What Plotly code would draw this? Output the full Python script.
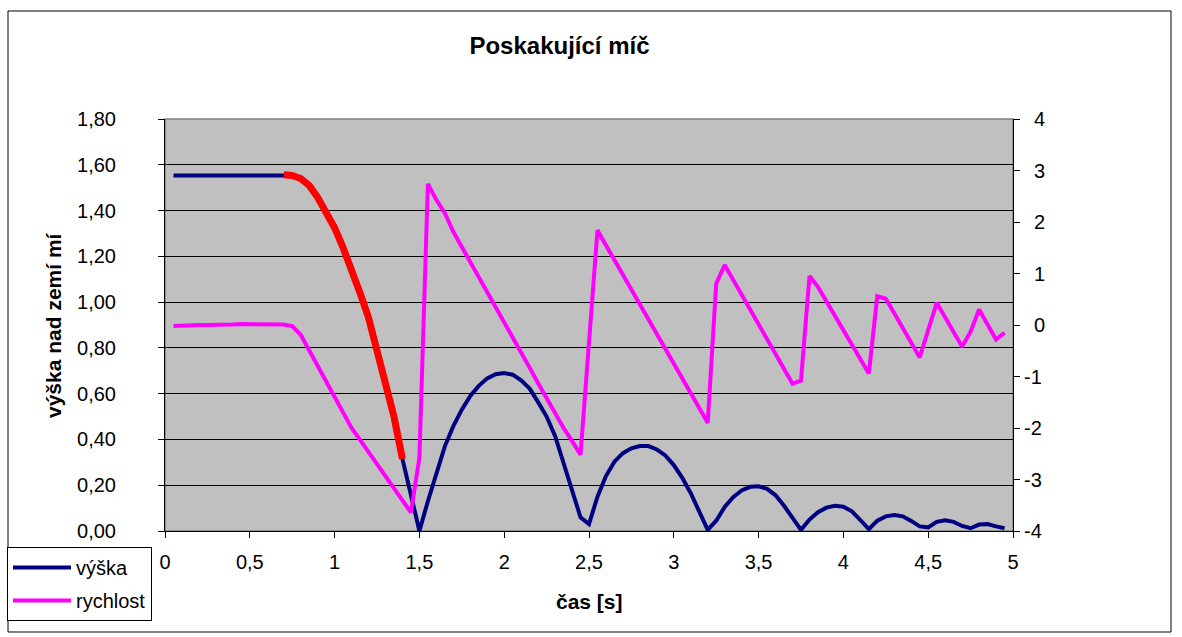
import plotly.graph_objects as go

# time [s]
time_s = [0.05, 0.10, 0.15, 0.20, 0.25, 0.30, 0.35, 0.40, 0.45, 0.50,
          0.55, 0.60, 0.65, 0.70, 0.75, 0.80, 0.85, 0.90, 0.95, 1.00,
          1.05, 1.10, 1.15, 1.20, 1.25, 1.30, 1.35, 1.40, 1.45, 1.50,
          1.55, 1.60, 1.65, 1.70, 1.75, 1.80, 1.85, 1.90, 1.95, 2.00,
          2.05, 2.10, 2.15, 2.20, 2.25, 2.30, 2.35, 2.40, 2.45, 2.50,
          2.55, 2.60, 2.65, 2.70, 2.75, 2.80, 2.85, 2.90, 2.95, 3.00,
          3.05, 3.10, 3.15, 3.20, 3.25, 3.30, 3.35, 3.40, 3.45, 3.50,
          3.55, 3.60, 3.65, 3.70, 3.75, 3.80, 3.85, 3.90, 3.95, 4.00,
          4.05, 4.10, 4.15, 4.20, 4.25, 4.30, 4.35, 4.40, 4.45, 4.50,
          4.55, 4.60, 4.65, 4.70, 4.75, 4.80, 4.85, 4.90, 4.95]

# výška [m]
vyska = [1.553, 1.553, 1.554, 1.554, 1.554, 1.555, 1.555, 1.555, 1.556, 1.556,
         1.556, 1.556, 1.556, 1.556, 1.553, 1.540, 1.510, 1.458, 1.398, 1.325,
         1.238, 1.145, 1.040, 0.932, 0.795, 0.655, 0.500, 0.315, 0.155, 0.000,
         0.130, 0.255, 0.370, 0.458, 0.530, 0.590, 0.634, 0.667, 0.685, 0.690,
         0.683, 0.658, 0.622, 0.563, 0.500, 0.415, 0.300, 0.175, 0.060, 0.030,
         0.150, 0.240, 0.303, 0.340, 0.361, 0.371, 0.371, 0.356, 0.330, 0.288,
         0.232, 0.165, 0.080, 0.005, 0.045, 0.105, 0.148, 0.177, 0.193, 0.195,
         0.184, 0.156, 0.110, 0.055, 0.005, 0.050, 0.082, 0.102, 0.110, 0.106,
         0.086, 0.048, 0.008, 0.045, 0.064, 0.070, 0.064, 0.044, 0.020, 0.016,
         0.040, 0.047, 0.040, 0.022, 0.012, 0.028, 0.030, 0.020, 0.012]

# rychlost [m/s]
rychlost = [-0.02, -0.01, -0.01, 0.00, 0.00, 0.00, 0.01, 0.01, 0.02, 0.02,
            0.01, 0.01, 0.01, 0.01, -0.02, -0.19, -0.49, -0.79, -1.10, -1.40,
            -1.70, -2.00, -2.23, -2.47, -2.70, -2.94, -3.17, -3.40, -3.64, -2.58,
            2.74, 2.43, 2.17, 1.81, 1.52, 1.22, 0.93, 0.64, 0.34, 0.05,
            -0.24, -0.54, -0.83, -1.13, -1.42, -1.72, -2.00, -2.25, -2.52, -0.34,
            1.84, 1.55, 1.26, 0.97, 0.68, 0.39, 0.10, -0.19, -0.48, -0.77,
            -1.06, -1.35, -1.64, -1.90, 0.80, 1.165, 0.88, 0.59, 0.30, 0.01,
            -0.28, -0.57, -0.86, -1.14, -1.08, 0.95, 0.74, 0.46, 0.18, -0.10,
            -0.38, -0.66, -0.94, 0.56, 0.51, 0.23, -0.06, -0.34, -0.63, -0.10,
            0.43, 0.15, -0.13, -0.42, -0.13, 0.30, 0.01, -0.28, -0.15]

# highlighted free-fall segment (indices into the series)
fall_start, fall_end = 13, 27

x_tick_vals = [0, 0.5, 1, 1.5, 2, 2.5, 3, 3.5, 4, 4.5, 5]
x_tick_text = ["0", "0,5", "1", "1,5", "2", "2,5", "3", "3,5", "4", "4,5", "5"]
y_tick_vals = [0, 0.2, 0.4, 0.6, 0.8, 1.0, 1.2, 1.4, 1.6, 1.8]
y_tick_text = ["0,00", "0,20", "0,40", "0,60", "0,80", "1,00", "1,20", "1,40", "1,60", "1,80"]
y2_tick_vals = [-4, -3, -2, -1, 0, 1, 2, 3, 4]
y2_tick_text = ["-4", "-3", "-2", "-1", "\u20020", "\u20021", "\u20022", "\u20023", "\u20024"]

FONT = "Liberation Sans, Arial, sans-serif"

fig = go.Figure()
fig.add_trace(go.Scatter(x=time_s, y=vyska, mode="lines", name="výška",
                         line=dict(color="#000080", width=4),
                         legendgroup="a", yaxis="y"))
fig.add_trace(go.Scatter(x=time_s[fall_start:fall_end + 1],
                         y=vyska[fall_start:fall_end + 1], mode="lines",
                         line=dict(color="#FF0000", width=7),
                         showlegend=False, yaxis="y"))
fig.add_trace(go.Scatter(x=time_s, y=rychlost, mode="lines", name="rychlost",
                         line=dict(color="#FF00FF", width=4),
                         legendgroup="b", yaxis="y2"))

# plot area: x 165..1013 px, y 119..531 px in a 1182x637 figure
L, R, T, B = 165, 169, 119, 106
PW, PH = 1182 - L - R, 637 - T - B


def px_x(p):
    return (p - L) / PW


def px_y(p):
    return (637 - B - p) / PH


fig.update_layout(
    width=1182, height=637,
    margin=dict(l=L, r=R, t=T, b=B, pad=0),
    paper_bgcolor="white", plot_bgcolor="#C0C0C0",
    font=dict(family=FONT, size=20, color="black"),
    title=dict(text="<b>Poskakující míč</b>", xref="container", yref="container",
               x=559.5 / 1182, y=1 - 46 / 637, xanchor="center", yanchor="middle",
               font=dict(size=24, family=FONT)),
    xaxis=dict(range=[0, 5], tickvals=x_tick_vals, ticktext=x_tick_text,
               showgrid=False, zeroline=False, showline=True, linecolor="black",
               linewidth=1, ticks="outside", ticklen=6, tickcolor="black",
               ticklabelstandoff=7, automargin=False),
    yaxis=dict(range=[0, 1.8], tickvals=y_tick_vals, ticktext=y_tick_text,
               showgrid=True, gridcolor="black", gridwidth=1, zeroline=False,
               showline=True, linecolor="black", linewidth=1, ticks="outside",
               ticklen=6, tickcolor="black", ticklabelstandoff=38, automargin=False),
    yaxis2=dict(range=[-4, 4], tickvals=y2_tick_vals, ticktext=y2_tick_text,
                overlaying="y", side="right", showgrid=False, zeroline=False,
                showline=True, linecolor="black", linewidth=1, ticks="outside",
                ticklen=6, tickcolor="black", ticklabelstandoff=0, automargin=False),
    legend=dict(xref="container", yref="container", x=7 / 1182, y=1 - 547 / 637,
                xanchor="left", yanchor="top", bgcolor="white", bordercolor="black",
                borderwidth=1, font=dict(size=20, family=FONT), tracegroupgap=4,
                itemwidth=58),
    showlegend=True,
    annotations=[
        dict(text="<b>výška nad zemí mí</b>", xref="paper", yref="paper",
             x=px_x(53), y=0.5, textangle=-90, showarrow=False,
             xanchor="center", yanchor="middle", font=dict(size=21)),
        dict(text="<b>čas [s]</b>", xref="paper", yref="paper",
             x=0.5, y=px_y(601), showarrow=False,
             xanchor="center", yanchor="middle", font=dict(size=21)),
    ],
    shapes=[
        dict(type="rect", xref="paper", yref="paper", x0=0, x1=1, y0=0, y1=1,
             line=dict(color="#808080", width=1.5), layer="below"),
        dict(type="rect", xref="paper", yref="paper",
             x0=px_x(8), x1=px_x(1171), y0=px_y(632), y1=px_y(11),
             line=dict(color="black", width=1), layer="below"),
    ],
)

fig.write_html("out.html", config={"displayModeBar": False},
               post_script="document.body.style.margin='0';document.body.style.overflow='hidden';")
